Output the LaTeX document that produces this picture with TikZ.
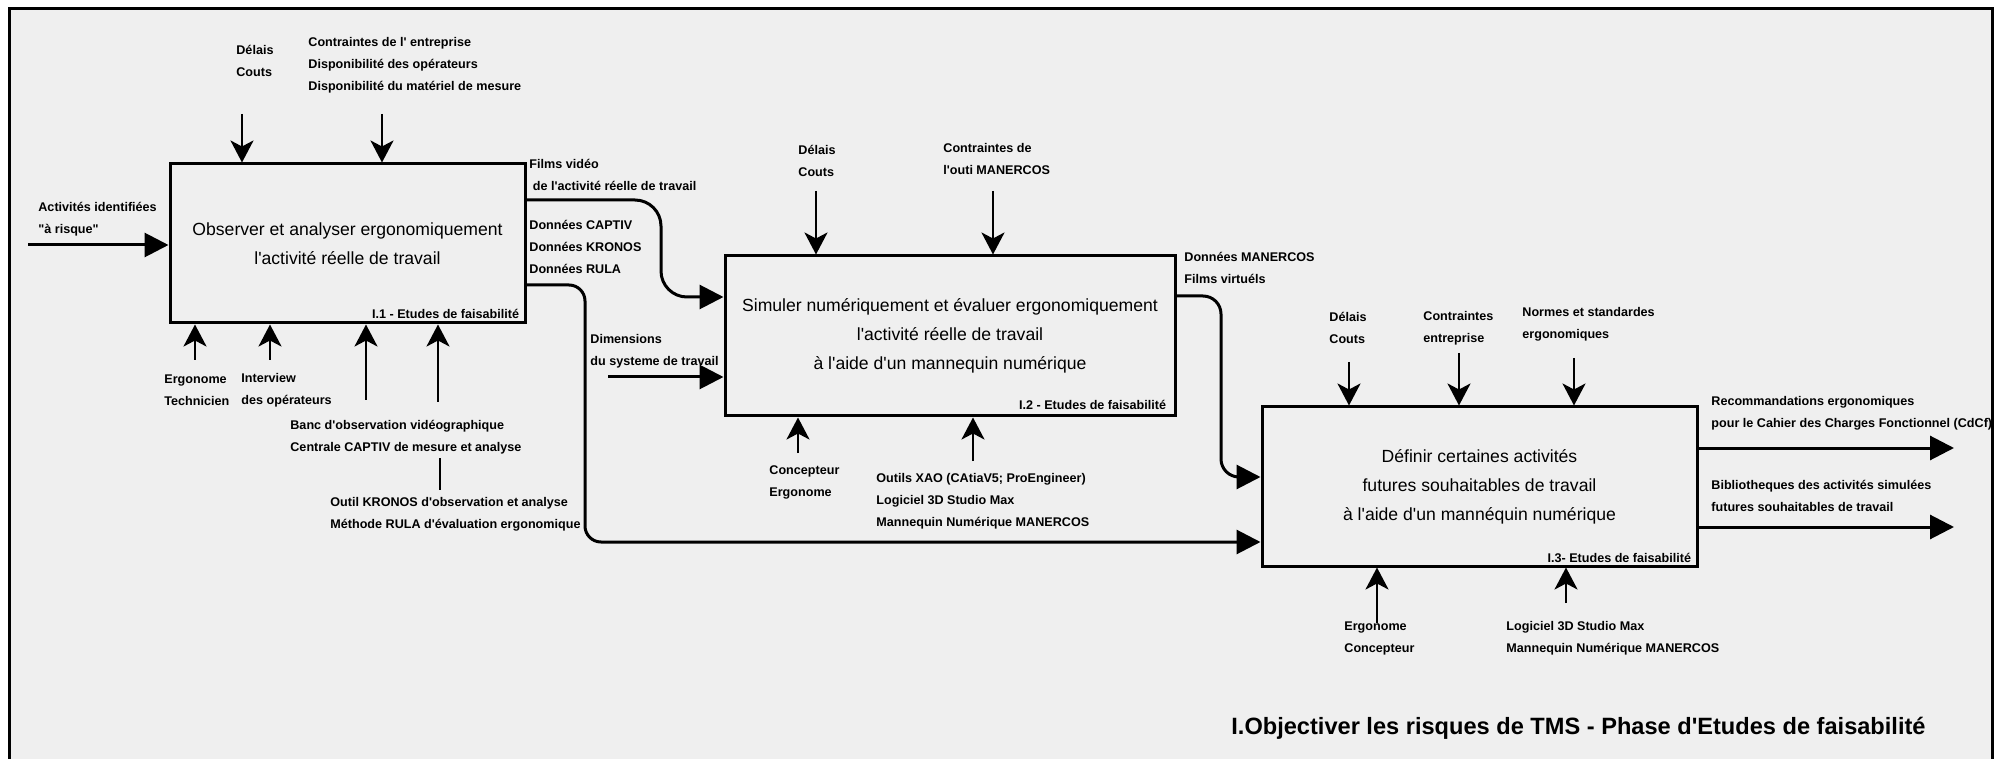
\documentclass[tikz,border=0pt]{standalone}
\usepackage{fontspec}
\setmainfont{Liberation Sans}[Ligatures=TeXOff]
\usetikzlibrary{arrows.meta}
\definecolor{bgc}{HTML}{EFEFEF}
\tikzset{
  box/.style={draw, line width=1.5pt, inner sep=0pt, align=center, font=\fontsize{8.8}{14.5}\selectfont},
  lbl/.style={anchor=west, inner sep=0pt, align=left, font=\bfseries\fontsize{6.3}{11}\selectfont},
  idlbl/.style={anchor=east, inner sep=0pt, font=\bfseries\fontsize{6.3}{11}\selectfont},
  flow/.style={line width=1.5pt, -{Triangle[length=12pt,width=12pt]}},
  ctrl/.style={line width=1.3pt, -{Stealth[length=11pt,width=11.5pt,inset=3pt]}},
}

\begin{document}
\begin{tikzpicture}[x=0.5pt, y=-0.5pt]
	%%%%% START %%%%%
	\useasboundingbox (0,0) rectangle (2004,759);
	\fill[bgc] (9,9) rectangle (1992,759);
	\draw[line width=1.5pt] (9,759) -- (9,9) -- (1992,9) -- (1992,759);
	
	%%%%% boxes %%%%%
	\node[box, minimum width=177.5pt, minimum height=79.5pt] (b1) at (347.5,243.5)
		{Observer et analyser ergonomiquement\\l'activité réelle de travail};
	\node[box, minimum width=225pt, minimum height=80pt] (b2) at (950,336)
		{Simuler numériquement et évaluer ergonomiquement\\l'activité réelle de travail\\à l'aide d'un mannequin numérique};
	\node[box, minimum width=217.5pt, minimum height=79.5pt] (b3) at (1479.5,486.5)
		{Définir certaines activités\\futures souhaitables de travail\\à l'aide d'un mannéquin numérique};
	
	\node[idlbl] (id1) at ([shift={(-3.5pt,5.5pt)}]b1.south east) {I.1 - Etudes de faisabilité};
	\node[idlbl] (id2) at ([shift={(-5pt,6.5pt)}]b2.south east) {I.2 - Etudes de faisabilité};
	\node[idlbl] (id3) at ([shift={(-3.5pt,5pt)}]b3.south east) {I.3- Etudes de faisabilité};
	
	%%%%% box 1 %%%%%
	\node[lbl] (in1lbl) at (38,219) {Activités identifiées\\"à risque"};
	\coordinate (in1) at (28,245);
	\draw[flow] (in1) -- (in1 -| b1.west);
	
	\node[lbl] (c11) at (236,61) {Délais\\Couts};
	\node[lbl] (c12) at (308,65.5) {Contraintes de l' entreprise\\Disponibilité des opérateurs\\Disponibilité du matériel de mesure};
	\coordinate (c11a) at (242,114);
	\coordinate (c12a) at (382,114);
	\draw[ctrl] (c11a) -- (c11a |- b1.north);
	\draw[ctrl] (c12a) -- (c12a |- b1.north);
	
	\node[lbl] (m11) at (164,390.5) {Ergonome\\Technicien};
	\node[lbl] (m12) at (241,390.5) {Interview\\des opérateurs};
	\node[lbl] (m13) at (290,437.5) {Banc d'observation vidéographique\\Centrale CAPTIV de mesure et analyse};
	\node[lbl] (m14) at (330,514.5) {Outil KRONOS d'observation et analyse\\Méthode RULA d'évaluation ergonomique};
	\coordinate (m11a) at (195,360);
	\coordinate (m12a) at (270,360);
	\coordinate (m13a) at (366,400);
	\coordinate (m14a) at (438,402);
	\draw[ctrl] (m11a) -- (m11a |- b1.south);
	\draw[ctrl] (m12a) -- (m12a |- b1.south);
	\draw[ctrl] (m13a) -- (m13a |- b1.south);
	\draw[ctrl] (m14a) -- (m14a |- b1.south);
	\coordinate (k1) at (440,458);
	\coordinate (k2) at (440,490);
	\draw[line width=1.3pt] (k1) -- (k2);
	
	\node[lbl] (o11) at (529,174.5) {Films vidéo\\\ de l'activité réelle de travail};
	\node[lbl] (o12) at (529,247) {Données CAPTIV\\Données KRONOS\\Données RULA};
	\coordinate (f1a) at (661,200);
	\coordinate (f1b) at (661,297);
	\draw[flow] (f1a -| b1.east) [rounded corners=13pt] -- (f1a) -- (f1b) [rounded corners=3pt] -- (f1b -| b2.west);
	\coordinate (f2a) at (585,285);
	\coordinate (f2b) at (585,542);
	\draw[flow] (f2a -| b1.east) [rounded corners=8pt] -- (f2a) -- (f2b) -- (f2b -| b3.west);
	
	%%%%% box 2 %%%%%
	\node[lbl] (in2lbl) at (590,351) {Dimensions\\du systeme de travail};
	\coordinate (in2) at (608,377);
	\draw[flow] (in2) -- (in2 -| b2.west);
	
	\node[lbl] (c21) at (798,161) {Délais\\Couts};
	\node[lbl] (c22) at (943,159) {Contraintes de\\l'outi MANERCOS};
	\coordinate (c21a) at (816,191);
	\coordinate (c22a) at (993,191);
	\draw[ctrl] (c21a) -- (c21a |- b2.north);
	\draw[ctrl] (c22a) -- (c22a |- b2.north);
	
	\node[lbl] (m21) at (769,482) {Concepteur\\Ergonome};
	\node[lbl] (m22) at (876,501) {Outils XAO (CAtiaV5; ProEngineer)\\Logiciel 3D Studio Max\\Mannequin Numérique MANERCOS};
	\coordinate (m21a) at (798,453);
	\coordinate (m22a) at (973,461);
	\draw[ctrl] (m21a) -- (m21a |- b2.south);
	\draw[ctrl] (m22a) -- (m22a |- b2.south);
	
	\node[lbl] (o21) at (1184,268) {Données MANERCOS\\Films virtuéls};
	\coordinate (f3a) at (1221,296);
	\coordinate (f3b) at (1221,477);
	\draw[flow] (f3a -| b2.east) [rounded corners=9pt] -- (f3a) -- (f3b) [rounded corners=3pt] -- (f3b -| b3.west);
	
	%%%%% box 3 %%%%%
	\node[lbl] (c31) at (1329,328) {Délais\\Couts};
	\node[lbl] (c32) at (1423,328) {Contraintes\\entreprise};
	\node[lbl] (c33) at (1522,324.5) {Normes et standardes\\ergonomiques};
	\coordinate (c31a) at (1349,362);
	\coordinate (c32a) at (1459,353);
	\coordinate (c33a) at (1574,358);
	\draw[ctrl] (c31a) -- (c31a |- b3.north);
	\draw[ctrl] (c32a) -- (c32a |- b3.north);
	\draw[ctrl] (c33a) -- (c33a |- b3.north);
	
	\node[lbl] (m31) at (1344,638) {Ergonome\\Concepteur};
	\node[lbl] (m32) at (1506,638) {Logiciel 3D Studio Max\\Mannequin Numérique MANERCOS};
	\coordinate (m31a) at (1377,623);
	\coordinate (m32a) at (1566,603);
	\draw[ctrl] (m31a) -- (m31a |- b3.south);
	\draw[ctrl] (m32a) -- (m32a |- b3.south);
	
	\node[lbl] (o31) at (1711,413) {Recommandations ergonomiques\\pour le Cahier des Charges Fonctionnel (CdCf)};
	\node[lbl] (o32) at (1711,495.5) {Bibliotheques des activités simulées\\futures souhaitables de travail};
	\coordinate (out1) at (1954,448);
	\coordinate (out2) at (1954,527);
	\draw[flow] (out1 -| b3.east) -- (out1);
	\draw[flow] (out2 -| b3.east) -- (out2);
	
	\node[anchor=west, inner sep=0pt, font=\bfseries\fontsize{11.8}{14}\selectfont] (title) at (1231,728)
		{I.Objectiver les risques de TMS - Phase d'Etudes de faisabilité};
	%%%%% END %%%%%
\end{tikzpicture}
\end{document}
